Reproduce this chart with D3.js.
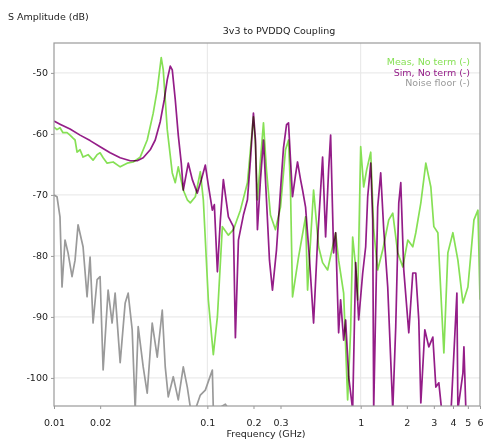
<!DOCTYPE html>
<html>
<head>
<meta charset="utf-8">
<script src="https://cdn.jsdelivr.net/npm/d3@7"></script>
<style>
  body { margin: 0; background: #fff; }
  svg { display: block; font-family: "DejaVu Sans", sans-serif; }
  .series { mix-blend-mode: multiply; }
</style>
</head>
<body>
<svg id="chart" width="492" height="439"></svg>
<script>
const freqTicks = [0.01, 0.02, 0.1, 0.2, 0.3, 1, 2, 3, 4, 5, 6];
const dbTicks = [-50, -60, -70, -80, -90, -100];
const gridFreqs = [0.1, 1];

const simFreq = [0.01, 0.01094, 0.01272, 0.01479, 0.01719, 0.01998, 0.02323, 0.02701, 0.03139, 0.03487,
  0.03817, 0.04241, 0.04573, 0.0493, 0.05236, 0.05478, 0.05731, 0.05906, 0.06178, 0.06463,
  0.06762, 0.06968, 0.07511, 0.0798, 0.08603, 0.09137, 0.09703, 0.1015, 0.1078, 0.1111,
  0.1163, 0.1216, 0.1272, 0.1372, 0.1479, 0.1524, 0.1595, 0.1719, 0.1826, 0.191,
  0.1998, 0.206, 0.2122, 0.2221, 0.2323, 0.243, 0.2542, 0.2659, 0.2825, 0.3,
  0.3138, 0.3284, 0.3384, 0.3487, 0.3594, 0.376, 0.3874, 0.4054, 0.4178, 0.4371,
  0.4642, 0.493, 0.5236, 0.5645, 0.5906, 0.6178, 0.6368, 0.6662, 0.6866, 0.7182,
  0.74, 0.7743, 0.798, 0.8348, 0.8866, 0.9275, 0.9703, 1.031, 1.078, 1.111,
  1.163, 1.198, 1.216, 1.291, 1.351, 1.414, 1.501, 1.619, 1.693, 1.772,
  1.826, 1.91, 2.059, 2.187, 2.288, 2.393, 2.468, 2.62, 2.782, 2.955,
  3.092, 3.234, 3.384, 3.874, 4.241, 4.305, 4.642, 4.713, 4.857, 6.0];
const simDb = [-57.9, -58.4, -59.2, -60.2, -61.1, -62.1, -63.1, -63.9, -64.4, -64.4,
  -63.9, -62.6, -61.0, -58.0, -54.4, -51.1, -48.9, -49.5, -54.4, -60.2,
  -64.8, -69.2, -64.8, -67.5, -69.7, -67.5, -65.1, -68.4, -72.5, -71.6,
  -82.6, -74.1, -67.5, -73.6, -75.2, -93.4, -77.4, -73.3, -70.8, -64.3,
  -56.6, -61.0, -75.7, -67.5, -61.0, -70.8, -80.7, -85.6, -79.0, -69.2,
  -62.3, -58.5, -58.2, -64.3, -70.3, -66.7, -64.6, -67.5, -69.2, -72.0,
  -80.7, -91.0, -77.4, -63.8, -76.9, -65.9, -60.2, -79.5, -76.2, -92.6,
  -87.2, -93.8, -90.5, -99.8, -105.2, -81.1, -90.5, -82.8, -78.5, -70.3,
  -64.8, -74.1, -105.2, -72.0, -66.4, -75.7, -85.1, -105.2, -91.6, -71.3,
  -68.0, -82.3, -92.6, -82.8, -82.8, -90.5, -104.1, -92.1, -94.9, -93.3,
  -101.5, -100.8, -105.6, -106.0, -86.1, -105.2, -99.2, -94.9, -105.6, -106.0];

const measFreq = [0.01, 0.01046, 0.01094, 0.01145, 0.01216, 0.01272, 0.01331, 0.01372, 0.01414, 0.01479,
  0.01547, 0.01668, 0.01798, 0.0191, 0.01998, 0.02091, 0.02221, 0.0243, 0.02701, 0.03,
  0.03284, 0.03649, 0.04054, 0.04437, 0.04713, 0.05004, 0.05158, 0.05478, 0.05906, 0.06178,
  0.06463, 0.06968, 0.074, 0.07743, 0.08348, 0.09, 0.09416, 0.1015, 0.1094, 0.1163,
  0.1253, 0.1372, 0.1479, 0.1643, 0.1826, 0.191, 0.1998, 0.206, 0.2122, 0.2221,
  0.2323, 0.243, 0.258, 0.2782, 0.3, 0.3235, 0.3384, 0.3487, 0.3594, 0.3933,
  0.4371, 0.4505, 0.493, 0.5315, 0.5645, 0.6086, 0.6866, 0.7182, 0.7743, 0.8222,
  0.8603, 0.8866, 0.9275, 0.9559, 1.0, 1.046, 1.094, 1.163, 1.216, 1.291,
  1.393, 1.524, 1.619, 1.745, 1.882, 2.029, 2.187, 2.288, 2.468, 2.66,
  2.868, 3.0, 3.187, 3.487, 3.703, 3.993, 4.305, 4.642, 5.004, 5.478,
  5.817, 6.0];
const measDb = [-58.9, -59.3, -59.0, -59.8, -59.8, -60.2, -60.7, -61.0, -63.0, -62.6,
  -63.8, -63.4, -64.3, -63.4, -63.1, -63.9, -64.8, -64.6, -65.4, -64.8,
  -64.6, -63.8, -61.0, -56.6, -52.8, -47.5, -49.5, -59.3, -66.4, -68.0,
  -65.4, -69.2, -70.8, -71.3, -70.3, -66.2, -70.8, -87.2, -96.2, -90.0,
  -75.2, -76.6, -75.7, -72.5, -68.0, -62.6, -57.2, -61.8, -70.8, -64.3,
  -58.2, -65.9, -73.3, -75.7, -72.0, -62.6, -61.0, -69.2, -86.7, -80.2,
  -73.6, -85.6, -69.2, -78.5, -81.1, -82.3, -76.2, -80.7, -86.1, -103.6,
  -92.1, -76.9, -81.8, -87.2, -62.1, -68.7, -65.9, -63.0, -75.7, -82.3,
  -79.0, -74.1, -73.0, -79.5, -81.8, -77.4, -78.5, -76.2, -71.3, -64.8,
  -68.7, -75.2, -76.2, -95.9, -79.5, -76.2, -80.7, -87.7, -85.1, -74.1,
  -72.5, -87.2];

const noiseFreq = [0.01, 0.01046, 0.01094, 0.01128, 0.0118, 0.01235, 0.01311, 0.01372, 0.01435, 0.01547,
  0.01643, 0.01719, 0.01798, 0.0191, 0.01998, 0.02091, 0.02254, 0.02393, 0.02504, 0.02701,
  0.02912, 0.03045, 0.03235, 0.03384, 0.0354, 0.03817, 0.04054, 0.0437, 0.04713, 0.05081,
  0.05315, 0.05561, 0.05995, 0.06463, 0.06968, 0.074, 0.07743, 0.08348, 0.09, 0.09703,
  0.1078, 0.1094, 0.1216, 0.1311, 0.1414];
const noiseDb = [-70.0, -70.3, -73.6, -85.1, -77.4, -79.5, -83.4, -80.7, -74.9, -78.5,
  -86.7, -80.2, -91.0, -83.9, -83.4, -98.7, -85.6, -91.0, -86.1, -97.5,
  -87.7, -86.1, -92.1, -105.2, -91.6, -98.2, -102.5, -91.0, -96.6, -88.9,
  -98.2, -103.1, -99.8, -103.6, -98.2, -101.5, -104.8, -105.2, -102.8, -102.0,
  -98.7, -105.2, -104.8, -104.3, -105.6];

const seriesList = [
  { name: "Noise floor (-)", color: "#9a9a9a", freq: noiseFreq, db: noiseDb },
  { name: "Meas, No term (-)", color: "#86e055", freq: measFreq, db: measDb },
  { name: "Sim, No term (-)", color: "#941d88", freq: simFreq, db: simDb },
];
const legendOrder = ["Meas, No term (-)", "Sim, No term (-)", "Noise floor (-)"];

const width = 492;
const height = 439;
const margin = { top: 43, right: 12, bottom: 33, left: 54 };

const svg = d3.select("#chart");

const x = d3.scaleLog()
  .domain([0.01, 6])
  .range([margin.left, width - margin.right]);

const y = d3.scaleLinear()
  .domain([-104.6, -45.1])
  .range([height - margin.bottom, margin.top]);

// grid
svg.append("g")
  .selectAll("line")
  .data(dbTicks)
  .join("line")
  .attr("x1", margin.left)
  .attr("x2", width - margin.right)
  .attr("y1", (d) => y(d))
  .attr("y2", (d) => y(d))
  .attr("stroke", "#e6e6e6");

svg.append("g")
  .selectAll("line")
  .data(gridFreqs)
  .join("line")
  .attr("x1", (d) => x(d))
  .attr("x2", (d) => x(d))
  .attr("y1", margin.top)
  .attr("y2", height - margin.bottom)
  .attr("stroke", "#e6e6e6");

// axes
const xAxis = svg.append("g")
  .attr("transform", `translate(0,${height - margin.bottom})`)
  .call(d3.axisBottom(x).tickValues(freqTicks).tickFormat((d) => String(d)).tickSize(3).tickPadding(10));

const yAxis = svg.append("g")
  .attr("transform", `translate(${margin.left},0)`)
  .call(d3.axisLeft(y).tickValues(dbTicks).tickFormat((d) => String(d)).tickSize(3).tickPadding(3));

for (const axis of [xAxis, yAxis]) {
  axis.select(".domain").remove();
  axis.selectAll(".tick line").attr("stroke", "#999");
  axis.selectAll(".tick text")
    .attr("fill", "#222")
    .attr("font-size", 9.5)
    .attr("font-family", "DejaVu Sans, sans-serif");
}

// lines
svg.append("clipPath")
  .attr("id", "plot-clip")
  .append("rect")
  .attr("x", margin.left)
  .attr("y", margin.top)
  .attr("width", width - margin.left - margin.right)
  .attr("height", height - margin.top - margin.bottom);

const line = d3.line()
  .x((point) => x(point[0]))
  .y((point) => y(point[1]));

svg.append("g")
  .attr("clip-path", "url(#plot-clip)")
  .selectAll("path")
  .data(seriesList)
  .join("path")
  .attr("class", "series")
  .attr("fill", "none")
  .attr("stroke", (s) => s.color)
  .attr("stroke-width", 1.7)
  .attr("stroke-linejoin", "round")
  .attr("d", (s) => line(s.freq.map((f, i) => [f, s.db[i]])));

// frame
svg.append("rect")
  .attr("x", margin.left)
  .attr("y", margin.top)
  .attr("width", width - margin.left - margin.right)
  .attr("height", height - margin.top - margin.bottom)
  .attr("fill", "none")
  .attr("stroke", "#9a9a9a")
  .attr("stroke-width", 1.2);

// legend
const colorByName = new Map(seriesList.map((s) => [s.name, s.color]));
svg.append("g")
  .selectAll("text")
  .data(legendOrder)
  .join("text")
  .attr("x", width - margin.right - 10)
  .attr("y", (d, i) => 65 + i * 10.5)
  .attr("text-anchor", "end")
  .attr("font-size", 9.5)
  .attr("fill", (d) => colorByName.get(d))
  .text((d) => d);

// titles
svg.append("text")
  .attr("x", 8)
  .attr("y", 20)
  .attr("font-size", 9.5)
  .attr("fill", "#222")
  .text("S Amplitude (dB)");

svg.append("text")
  .attr("x", 279)
  .attr("y", 34)
  .attr("text-anchor", "middle")
  .attr("font-size", 9.5)
  .attr("fill", "#222")
  .text("3v3 to PVDDQ Coupling");

svg.append("text")
  .attr("x", 266)
  .attr("y", 437)
  .attr("text-anchor", "middle")
  .attr("font-size", 9.5)
  .attr("fill", "#222")
  .text("Frequency (GHz)");
</script>
</body>
</html>
